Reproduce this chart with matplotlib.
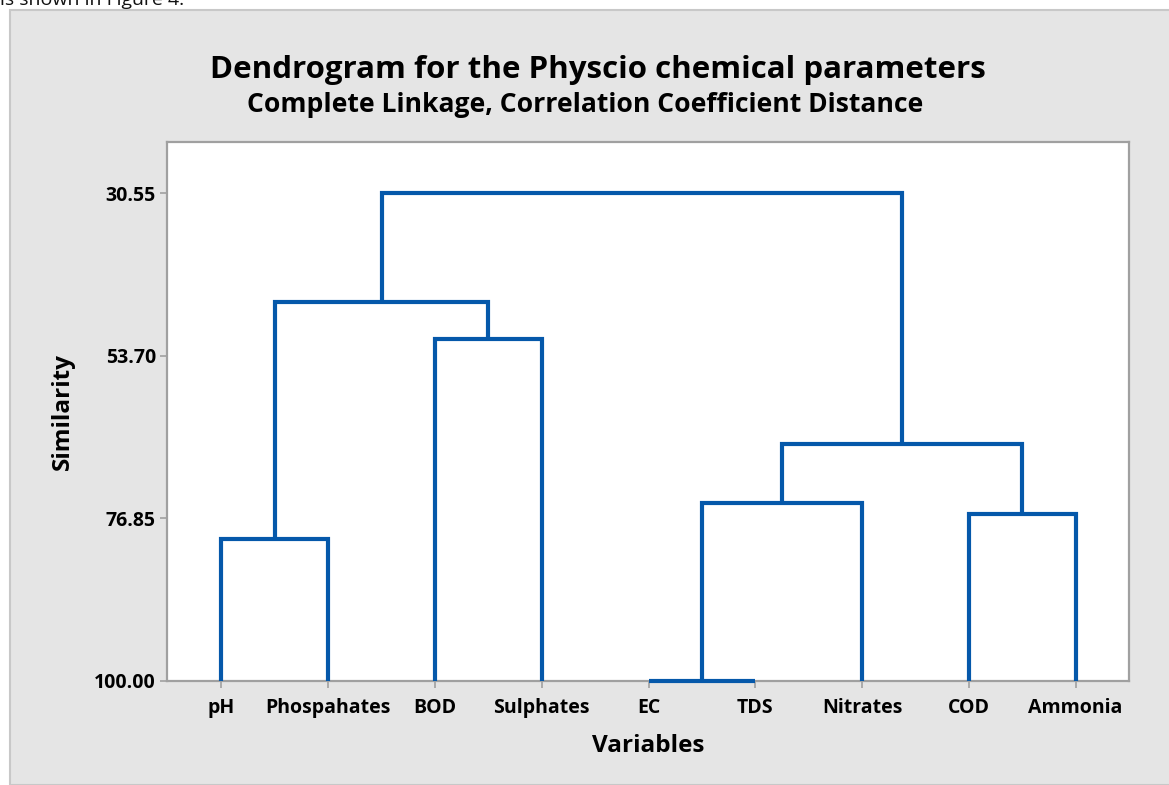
import matplotlib
matplotlib.use("Agg")
import matplotlib.pyplot as plt
from matplotlib.patches import Rectangle

# ---- data ----
variables = ["pH", "Phospahates", "BOD", "Sulphates", "EC", "TDS", "Nitrates", "COD", "Ammonia"]
# merges (scipy-style ids: 0..8 leaves, 9+ new clusters)
merge_a = [4, 0, 7, 9, 12, 2, 10, 15]
merge_b = [5, 1, 8, 6, 11, 3, 14, 13]
merge_sim = [100.0, 79.8, 76.24, 74.7, 66.27, 51.33, 46.0, 30.55]
ytick_vals = [30.55, 53.70, 76.85, 100.00]
ytick_labels = ["30.55", "53.70", "76.85", "100.00"]

FONT = ["Open Sans", "DejaVu Sans"]
plt.rcParams["font.family"] = FONT

W, H = 1169, 785
fig = plt.figure(figsize=(W / 100, H / 100), dpi=100)
fig.patch.set_facecolor("white")

# grey panel
fig.patches.append(Rectangle((10 / W, 0), 1.2, 1 - 10 / H, transform=fig.transFigure,
                             facecolor="#e5e5e5", edgecolor="#c8c8c8", linewidth=1.5, zorder=-10))
fig.text(0.0, 1 - 5 / H, "is shown in Figure 4.", fontsize=14, va="baseline", ha="left",
         color="#111111")

ax = fig.add_axes([167 / W, 1 - 681 / H, (1129 - 167) / W, (681 - 142) / H])
ax.set_zorder(5)
ax.set_facecolor("white")

n = len(variables)
xpos = {i: i + 1 for i in range(n)}
hpos = {i: 100.0 for i in range(n)}
color = "#0558aa"
for k, (a, b, s) in enumerate(zip(merge_a, merge_b, merge_sim)):
    xa, xb = xpos[a], xpos[b]
    ha, hb = hpos[a], hpos[b]
    ax.plot([xa, xa, xb, xb], [ha, s, s, hb], color=color, lw=3.0,
            solid_joinstyle="miter", solid_capstyle="butt", clip_on=False, zorder=3)
    cid = n + k
    xpos[cid] = (xa + xb) / 2
    hpos[cid] = s

ax.set_xlim(0.49, 9.5)
ax.set_ylim(100, 23.29)
ax.set_xticks(range(1, n + 1))
ax.set_xticklabels(variables)
ax.set_yticks(ytick_vals)
ax.set_yticklabels(ytick_labels)
for sp in ax.spines.values():
    sp.set_color("#a0a0a0")
    sp.set_linewidth(1.6)
ax.tick_params(axis="both", colors="#a0a0a0", length=5, width=1.2, labelcolor="black",
               labelsize=14)
ax.tick_params(axis="x", pad=7)
ax.tick_params(axis="y", pad=3)
for lab in ax.get_xticklabels() + ax.get_yticklabels():
    lab.set_fontweight("bold")

ax.set_xlabel("Variables", fontsize=17.5, fontweight="bold", labelpad=12)
ax.set_ylabel("Similarity", fontsize=17.5, fontweight="bold", labelpad=14)

fig.text(598 / W, 1 - 78 / H, "Dendrogram for the Physcio chemical parameters", fontsize=22.5,
         fontweight="bold", ha="center", va="baseline")
fig.text(585 / W, 1 - 112 / H, "Complete Linkage, Correlation Coefficient Distance",
         fontsize=19.1, fontweight="bold", ha="center", va="baseline")

fig.savefig("out.png", dpi=100, facecolor="white")
